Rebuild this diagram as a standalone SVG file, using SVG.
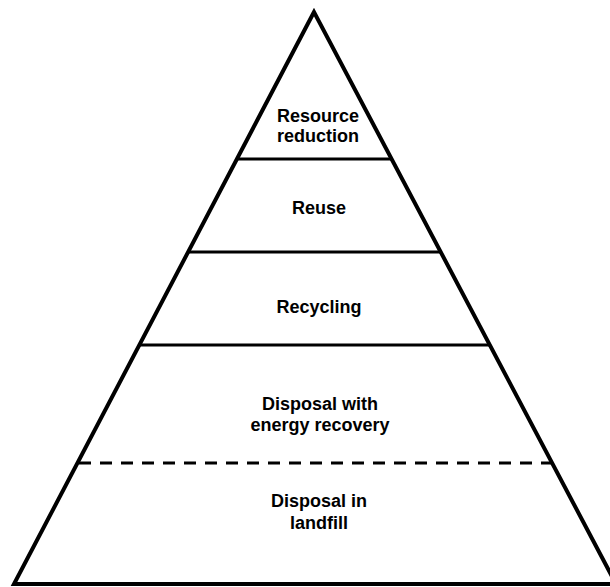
<svg xmlns="http://www.w3.org/2000/svg" width="610" height="587" viewBox="0 0 610 587">
  <style>
    .edge { fill: none; stroke: #000; stroke-width: 4; stroke-linejoin: miter; }
    .tier { stroke: #000; stroke-width: 3; }
    .dash { stroke: #000; stroke-width: 3; stroke-dasharray: 12 9; }
    text { font-family: "Liberation Sans", Arial, Helvetica, sans-serif; font-weight: bold; font-size: 18px; fill: #000; text-anchor: middle; }
  </style>
  <rect width="610" height="587" fill="#fff"/>

  <!-- pyramid outline -->
  <g id="pyramid">
    <polygon class="edge" points="314,12 14,584 616,584"/>
  </g>

  <!-- tier dividers -->
  <g id="dividers">
    <line class="tier" x1="237" y1="159" x2="391" y2="159"/>
    <line class="tier" x1="189" y1="252" x2="440" y2="252"/>
    <line class="tier" x1="140" y1="345" x2="490" y2="345"/>
    <line class="dash" x1="79" y1="463" x2="552" y2="463"/>
  </g>

  <g id="resource-reduction">
    <text x="318" y="122">Resource</text>
    <text x="318" y="142">reduction</text>
  </g>
  <g id="reuse">
    <text x="319" y="214">Reuse</text>
  </g>
  <g id="recycling">
    <text x="319" y="313">Recycling</text>
  </g>
  <g id="disposal-energy">
    <text x="320" y="410">Disposal with</text>
    <text x="320" y="431">energy recovery</text>
  </g>
  <g id="disposal-landfill">
    <text x="319" y="507">Disposal in</text>
    <text x="319" y="529">landfill</text>
  </g>
</svg>
